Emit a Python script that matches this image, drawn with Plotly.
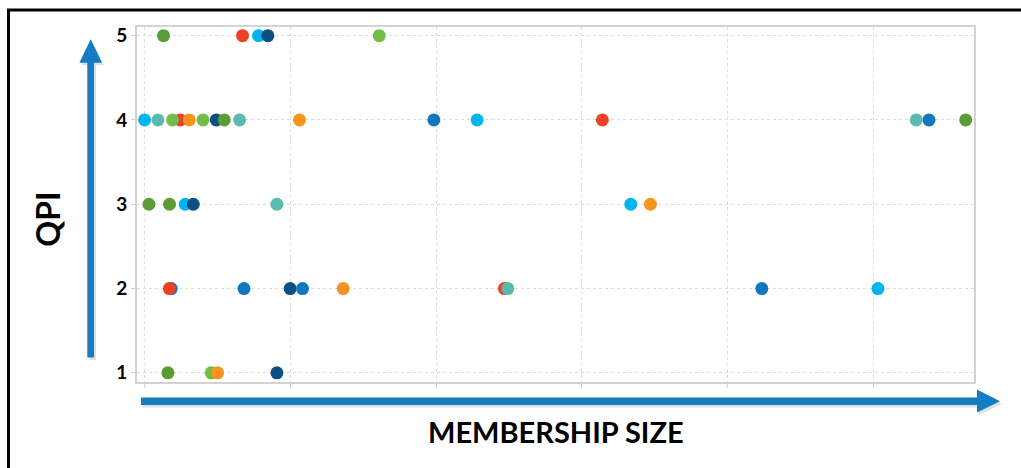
import plotly.graph_objects as go

# ---- data (per colour series): membership size (x) and QPI (y) ----
cyan_x = [0, 228.2, 78.2, 27.9, 333.6, 503.2]
cyan_y = [4, 4, 5, 3, 3, 2]
navy_x = [84.6, 49.2, 33.4, 99.9, 90.8]
navy_y = [5, 4, 3, 2, 1]
mblue_x = [198.5, 538.2, 18.3, 68.2, 108.4, 423.5]
mblue_y = [4, 4, 2, 2, 2, 2]
red_x = [67.2, 24.5, 314.1, 17.0, 246.9]
red_y = [5, 4, 4, 2, 2]
teal_x = [9.2, 65.2, 529.5, 90.8, 249.2]
teal_y = [4, 4, 4, 3, 2]
lgreen_x = [19.2, 40.1, 161.0, 45.7]
lgreen_y = [4, 4, 5, 1]
orange_x = [30.7, 106.3, 347.1, 136.3, 50.1]
orange_y = [4, 4, 3, 2, 1]
dgreen_x = [13.0, 54.7, 563.4, 3.0, 17.1, 16.0]
dgreen_y = [5, 4, 4, 3, 3, 1]

y_ticks = [1, 2, 3, 4, 5]
y_title = "QPI"
x_title = "MEMBERSHIP SIZE"

series = [
    (cyan_x, cyan_y, "#00b5ef"),
    (navy_x, navy_y, "#0b4f85"),
    (mblue_x, mblue_y, "#1078be"),
    (red_x, red_y, "#ee4027"),
    (teal_x, teal_y, "#5bbab0"),
    (lgreen_x, lgreen_y, "#72bd46"),
    (orange_x, orange_y, "#f7931e"),
    (dgreen_x, dgreen_y, "#5a9c36"),
]

W, H = 1021, 468
L, R, T, B = 137, 974, 27, 382.5


def px(x):
    return (x - L) / (R - L)


def py(y):
    return (B - y) / (B - T)


fig = go.Figure()
for xs, ys, col in series:
    fig.add_trace(go.Scatter(
        x=xs, y=ys, mode="markers",
        marker=dict(size=13, color=col, line=dict(width=0)),
        hoverinfo="skip", showlegend=False,
    ))

ARROW = "#137cc4"
SHADOW = "rgba(0,0,0,0.12)"


def path(points):
    return "M " + " L ".join(f"{px(a):.5f},{py(b):.5f}" for a, b in points) + " Z"


v_arrow = [(87.3, 358), (94, 358), (94, 62.7), (102, 62.7), (90.7, 39.3), (79.4, 62.7), (87.3, 62.7)]
h_arrow = [(141, 398), (977, 398), (977, 390), (1000, 401.8), (977, 413), (977, 405.6), (141, 405.6)]

shapes = []
for pts in (v_arrow, h_arrow):
    sh = [(a + 2, b + 2.5) for a, b in pts]
    shapes.append(dict(type="path", xref="paper", yref="paper", path=path(sh),
                       fillcolor=SHADOW, line=dict(width=0), layer="below"))
    shapes.append(dict(type="path", xref="paper", yref="paper", path=path(pts),
                       fillcolor=ARROW, line=dict(width=0), layer="above"))

# outer frame
shapes.append(dict(type="rect", xref="paper", yref="paper",
                   x0=px(8.5), y0=py(480), x1=px(1040), y1=py(10),
                   line=dict(color="black", width=3), fillcolor="rgba(0,0,0,0)"))

fig.update_layout(
    width=W, height=H,
    margin=dict(l=L, r=W - R, t=T, b=H - B, pad=0),
    paper_bgcolor="white", plot_bgcolor="white",
    shapes=shapes,
    xaxis=dict(range=[-5.2, 569.1], dtick=100, tick0=0,
               showgrid=True, gridcolor="#dcdcdc", griddash="dot", gridwidth=1,
               showline=True, linecolor="#d3d3d3", linewidth=2, mirror=True,
               ticks="outside", ticklen=4, tickcolor="#d3d3d3",
               showticklabels=False, zeroline=False, fixedrange=True),
    yaxis=dict(range=[0.891, 5.103], tickvals=y_ticks,
               showgrid=True, gridcolor="#dcdcdc", griddash="dot", gridwidth=1,
               showline=True, linecolor="#d3d3d3", linewidth=2, mirror=True,
               ticks="outside", ticklen=4, tickcolor="#d3d3d3",
               tickfont=dict(family="Lato", size=19, color="black", weight="bold"),
               zeroline=False, fixedrange=True),
    annotations=[
        dict(text=y_title, xref="paper", yref="paper", x=px(48), y=py(220),
             textangle=-90, showarrow=False, xanchor="center", yanchor="middle",
             font=dict(family="Lato", size=32, color="black", weight="bold")),
        dict(text=x_title, xref="paper", yref="paper", x=px(556), y=py(432),
             showarrow=False, xanchor="center", yanchor="middle",
             font=dict(family="Lato", size=29, color="black", weight="bold")),
    ],
)

fig.write_html("out.html")
